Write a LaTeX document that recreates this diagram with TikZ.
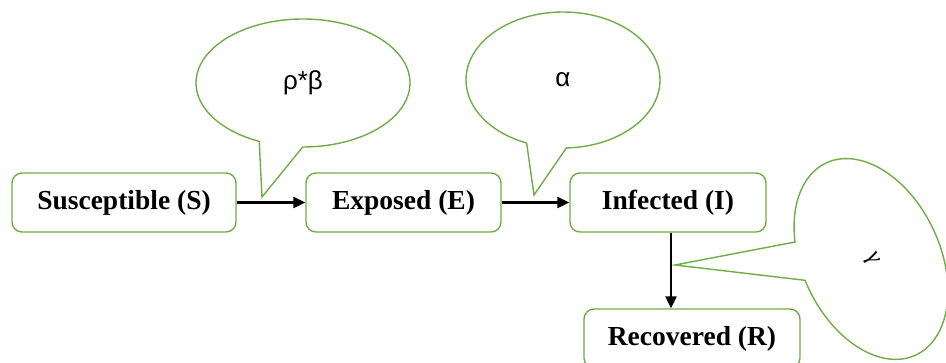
\documentclass[tikz,border=0pt]{standalone}
\usepackage{fontspec}
\setmainfont{Liberation Serif}
\newfontfamily\greekfont{Liberation Sans}
\usetikzlibrary{shapes.callouts,arrows.meta}
\definecolor{boxgreen}{HTML}{70AD47}
\tikzset{
  x=1pt,y=1pt,
  statebox/.style={draw=boxgreen, line width=1.4pt, rounded corners=10pt, fill=white,
    minimum height=59pt, inner sep=0pt, font=\fontsize{27.5}{30}\selectfont\bfseries},
  bubble/.style={ellipse callout, draw=boxgreen, line width=1.4pt, fill=white, inner sep=0pt,
    font=\fontsize{26}{28}\selectfont\greekfont},
  flow/.style={draw=black, line width=2.3pt, -{Triangle[length=12pt,width=11pt]}}
}
\begin{document}
\begin{tikzpicture}
\clip (0,0) rectangle (946,363);
\fill[white] (0,0) rectangle (946,363);
% callouts
\node[bubble, minimum width=214pt, minimum height=128pt, callout pointer arc=24,
  callout absolute pointer={(262,166)}] (cb) at (303,280) {ρ*β};
\node[bubble, minimum width=194pt, minimum height=136pt, callout pointer arc=24,
  callout absolute pointer={(534,168)}] (ca) at (563,283) {α};
\node[bubble, minimum width=212pt, minimum height=138pt, callout pointer arc=22, rotate=-65,
  callout absolute pointer={(675,98)}, font=\fontsize{24}{26}\selectfont\rmfamily] (cg) at (871,104) {γ};
% boxes
\node[statebox, minimum width=224pt] (S) at (124,160.5) {Susceptible (S)};
\node[statebox, minimum width=195pt] (E) at (403.5,160.5) {Exposed (E)};
\node[statebox, minimum width=196pt] (I) at (668,160.5) {Infected (I)};
\node[statebox, minimum width=216pt] (R) at (692,24.5) {Recovered (R)};
% arrows
\draw[flow] (S.east) -- (E.west);
\draw[flow] (E.east) -- (I.west);
\draw[flow] ([xshift=3pt]I.south) -- ([xshift=3pt]I.south |- R.north);
\end{tikzpicture}
\end{document}
